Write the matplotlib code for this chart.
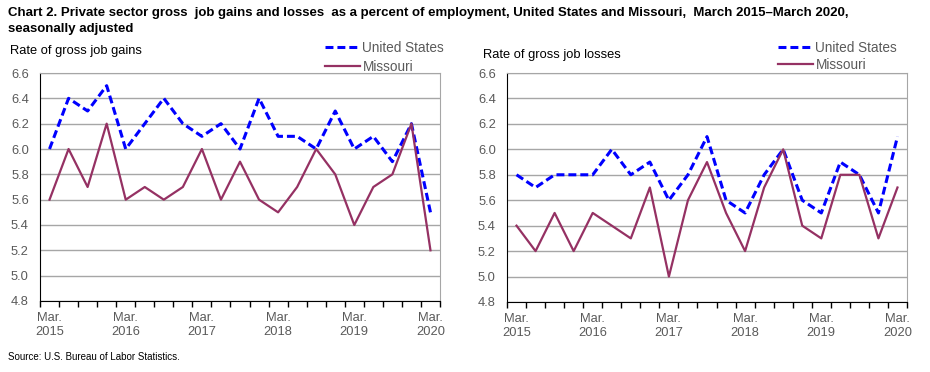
import numpy as np
import matplotlib.pyplot as plt

# quarterly, March 2015 - March 2020
quarters = list(range(21))
tick_labels = ['Mar.\n2015', 'Mar.\n2016', 'Mar.\n2017', 'Mar.\n2018', 'Mar.\n2019', 'Mar.\n2020']

us_gains = [6.0, 6.4, 6.3, 6.5, 6.0, 6.2, 6.4, 6.2, 6.1, 6.2, 6.0,
            6.4, 6.1, 6.1, 6.0, 6.3, 6.0, 6.1, 5.9, 6.2, 5.5]
mo_gains = [5.6, 6.0, 5.7, 6.2, 5.6, 5.7, 5.6, 5.7, 6.0, 5.6, 5.9,
            5.6, 5.5, 5.7, 6.0, 5.8, 5.4, 5.7, 5.8, 6.2, 5.2]

us_losses = [5.8, 5.7, 5.8, 5.8, 5.8, 6.0, 5.8, 5.9, 5.6, 5.8, 6.1,
             5.6, 5.5, 5.8, 6.0, 5.6, 5.5, 5.9, 5.8, 5.5, 6.1]
mo_losses = [5.4, 5.2, 5.5, 5.2, 5.5, 5.4, 5.3, 5.7, 5.0, 5.6, 5.9,
             5.5, 5.2, 5.7, 6.0, 5.4, 5.3, 5.8, 5.8, 5.3, 5.7]

plt.rcParams['font.family'] = ['Liberation Sans', 'DejaVu Sans']

US_COL = '#0000ff'
MO_COL = '#953163'
TICK_COL = '#5a5a5a'

fig = plt.figure(figsize=(9.3, 3.72), dpi=100)
ax1 = fig.add_axes([40 / 930, 1 - 301 / 372, 400 / 930, 228 / 372])
ax2 = fig.add_axes([507 / 930, 1 - 302 / 372, 400 / 930, 229 / 372])


def style(ax, us, mo, ylabel, lx, ly, legx, legy, lsp):
    ax.plot(quarters, us, color=US_COL, lw=2.2, ls=(0, (2.6, 1.3)), label='United States')
    ax.plot(quarters, mo, color=MO_COL, lw=1.6, label='Missouri')
    ax.set_xlim(-0.5, 20.5)
    ax.set_ylim(4.8, 6.6)
    ax.set_yticks(np.arange(4.8, 6.61, 0.2))
    ax.set_yticklabels(['%.1f' % v for v in np.arange(4.8, 6.61, 0.2)])
    ax.yaxis.grid(True, color='#a6a6a6', lw=1)
    ax.set_axisbelow(True)
    ax.set_xticks([0, 4, 8, 12, 16, 20])
    ax.set_xticklabels(tick_labels)
    ax.set_xticks(np.arange(-0.5, 21, 1), minor=True)
    ax.tick_params(axis='x', which='major', length=0, pad=8, labelsize=9.3, labelcolor=TICK_COL)
    ax.tick_params(axis='x', which='minor', length=4, width=1, color='black')
    ax.tick_params(axis='y', length=0, pad=8, labelsize=9.3, labelcolor=TICK_COL)
    for lab in ax.get_xticklabels():
        lab.set_linespacing(1.25)
    ax.spines['left'].set_color('black')
    ax.spines['bottom'].set_color('black')
    ax.spines['top'].set_color('#a6a6a6')
    ax.spines['right'].set_color('#a6a6a6')
    fig.text(lx / 930, 1 - ly / 372, ylabel, fontsize=9.3, va='center', ha='left')
    fig.legend(handles=ax.get_lines(), loc='upper left',
               bbox_to_anchor=(legx / 930, 1 - legy / 372), frameon=False,
               fontsize=9.8, handlelength=2.6, handletextpad=0.15,
               labelspacing=lsp, borderaxespad=0, borderpad=0,
               labelcolor=TICK_COL)


style(ax1, us_gains, mo_gains, 'Rate of gross job gains', 10, 51, 325, 41, 0.38)
style(ax2, us_losses, mo_losses, 'Rate of gross job losses', 483, 55, 778, 41, 0.22)

fig.text(8 / 930, 1 - 7 / 372,
         'Chart 2. Private sector gross  job gains and losses  as a percent of employment, '
         'United States and Missouri,  March 2015\u2013March 2020,\nseasonally adjusted',
         fontsize=9.5, fontweight='bold',
         va='top', ha='left', linespacing=1.4)
fig.text(8 / 930, 1 - 357 / 372, 'Source: U.S. Bureau of Labor Statistics.',
         fontsize=7, va='center', ha='left')

fig.savefig('out.png', dpi=100)
